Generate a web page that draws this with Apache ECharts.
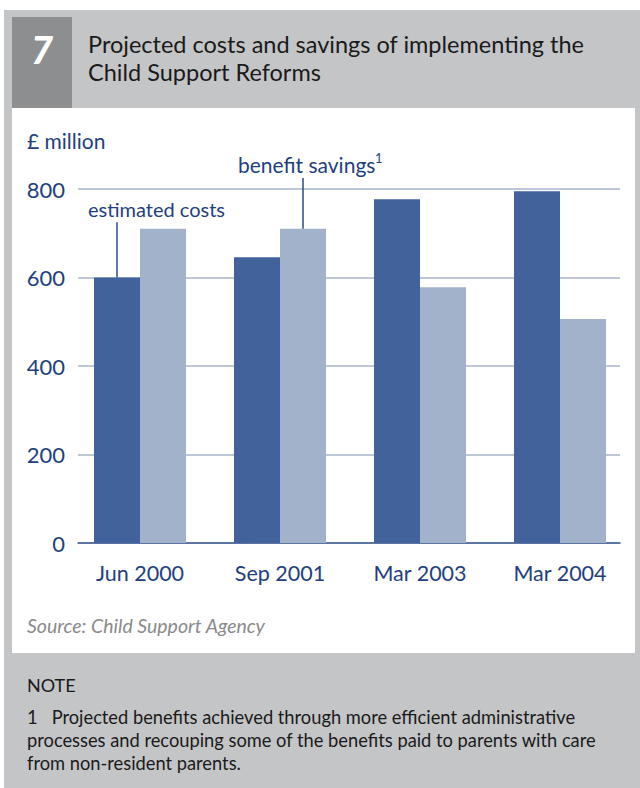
<!DOCTYPE html>
<html><head><meta charset="utf-8">
<script src="https://cdn.jsdelivr.net/npm/echarts@6/dist/echarts.min.js"></script>
<style>html,body{margin:0;padding:0;background:#fff}#c{width:640px;height:788px}</style>
</head><body><div id="c"></div>
<script>
const categories = ['Jun 2000', 'Sep 2001', 'Mar 2003', 'Mar 2004'];
const estimatedCosts = [600, 646, 777, 795];
const benefitSavings = [710, 710, 578, 506];
const yTicks = [0, 200, 400, 600, 800];
const titleLines = ['Projected costs and savings of implementing the', 'Child Support Reforms'];
const noteLines = [
  '1   Projected benefits achieved through more efficient administrative',
  'processes and recouping some of the benefits paid to parents with care',
  'from non-resident parents.'
];

const FONT = 'Lato';
const NAVY = '#223f7c';
const chart = echarts.init(document.getElementById('c'), null, {renderer: 'svg'});

const bg = [
  {type: 'rect', shape: {x: 4, y: 10, width: 636, height: 778}, style: {fill: '#c4c5c7'}, z: -10},
  {type: 'rect', shape: {x: 12, y: 17, width: 60, height: 91}, style: {fill: '#8d8e90'}, z: -9},
  {type: 'rect', shape: {x: 12, y: 108, width: 623, height: 545}, style: {fill: '#ffffff'}, z: -9},
  {type: 'text', x: 42, y: 49, style: {text: '7', fill: '#fff', font: 'italic 900 38px ' + FONT, align: 'center', verticalAlign: 'middle'}, z: 5},
  {type: 'text', x: 88, y: 44, style: {text: titleLines[0], fill: '#1a1a1a', font: '23.5px ' + FONT, verticalAlign: 'middle'}, z: 5},
  {type: 'text', x: 88, y: 72, style: {text: titleLines[1], fill: '#1a1a1a', font: '23.5px ' + FONT, verticalAlign: 'middle'}, z: 5},
  {type: 'text', x: 27, y: 140, style: {text: '£ million', fill: NAVY, font: '21px ' + FONT, verticalAlign: 'middle'}, z: 5},
  {type: 'text', x: 27, y: 625, style: {text: 'Source: Child Support Agency', fill: '#8a8a8a', font: 'italic 19.5px ' + FONT, verticalAlign: 'middle'}, z: 5},
  {type: 'text', x: 27, y: 685, style: {text: 'NOTE', fill: '#1a1a1a', font: '18px ' + FONT, verticalAlign: 'middle'}, z: 5}
];
noteLines.forEach((t, i) => bg.push({type: 'text', x: 27, y: 717 + i * 23, style: {text: t, fill: '#1a1a1a', font: '18.3px ' + FONT, verticalAlign: 'middle'}, z: 5}));

chart.setOption({
  animation: false,
  textStyle: {fontFamily: FONT},
  graphic: bg,
  grid: [
    {left: 70, width: 560, top: 189, height: 354},
    {left: 78, width: 542, top: 189, height: 354}
  ],
  xAxis: [
    {type: 'category', data: categories, gridIndex: 0, axisLine: {show: false}, axisTick: {show: false},
     axisLabel: {color: NAVY, fontSize: 21.5, margin: 19, fontFamily: FONT}},
    {type: 'category', data: categories, gridIndex: 1, axisLine: {show: true, lineStyle: {color: '#3d5b93', width: 1.5}},
     axisTick: {show: false}, axisLabel: {show: false}}
  ],
  yAxis: [
    {type: 'value', gridIndex: 0, min: 0, max: 800, interval: 200, show: false, splitLine: {show: false}},
    {type: 'value', gridIndex: 1, min: yTicks[0], max: yTicks[yTicks.length - 1], interval: 200,
     axisLine: {show: false}, axisTick: {show: false},
     axisLabel: {color: NAVY, fontSize: 22, margin: 13, fontFamily: FONT},
     splitLine: {show: true, lineStyle: {color: '#a9b5cb', width: 1.5}}}
  ],
  series: [
    {name: 'estimated costs', type: 'bar', xAxisIndex: 0, yAxisIndex: 0, data: estimatedCosts, barWidth: 46, barGap: '0%',
     itemStyle: {color: '#41629a'}, z: 3},
    {name: 'benefit savings', type: 'bar', xAxisIndex: 0, yAxisIndex: 0, data: benefitSavings, barWidth: 46, barGap: '0%',
     itemStyle: {color: '#a2b2ca'}, z: 3}
  ]
});

// leader lines and their labels, anchored to the bars through the axes
const half = 23;
const pc = chart.convertToPixel({xAxisIndex: 0, yAxisIndex: 0}, [0, estimatedCosts[0]]);
const pcTop = chart.convertToPixel({xAxisIndex: 0, yAxisIndex: 0}, [0, 725]);
const ps = chart.convertToPixel({xAxisIndex: 0, yAxisIndex: 0}, [1, benefitSavings[1]]);
const psTop = chart.convertToPixel({xAxisIndex: 0, yAxisIndex: 0}, [1, 825]);
const xc = pc[0] - half, xs = ps[0] + half;
chart.setOption({graphic: bg.concat([
  {type: 'line', shape: {x1: xc, y1: pc[1], x2: xc, y2: pcTop[1]}, style: {stroke: '#2b4a86', lineWidth: 1.5}, z: 10},
  {type: 'line', shape: {x1: xs, y1: ps[1], x2: xs, y2: psTop[1]}, style: {stroke: '#2b4a86', lineWidth: 1.5}, z: 10},
  {type: 'text', x: 88, y: pcTop[1] - 13, style: {text: 'estimated costs', fill: NAVY, font: '20px ' + FONT, verticalAlign: 'middle'}, z: 10},
  {type: 'text', x: 238, y: psTop[1] - 13, style: {text: 'benefit savings', fill: NAVY, font: '21px ' + FONT, verticalAlign: 'middle'}, z: 10},
  {type: 'text', x: 375, y: psTop[1] - 20, style: {text: '1', fill: NAVY, font: '13px ' + FONT, verticalAlign: 'middle'}, z: 10}
])});
</script></body></html>
